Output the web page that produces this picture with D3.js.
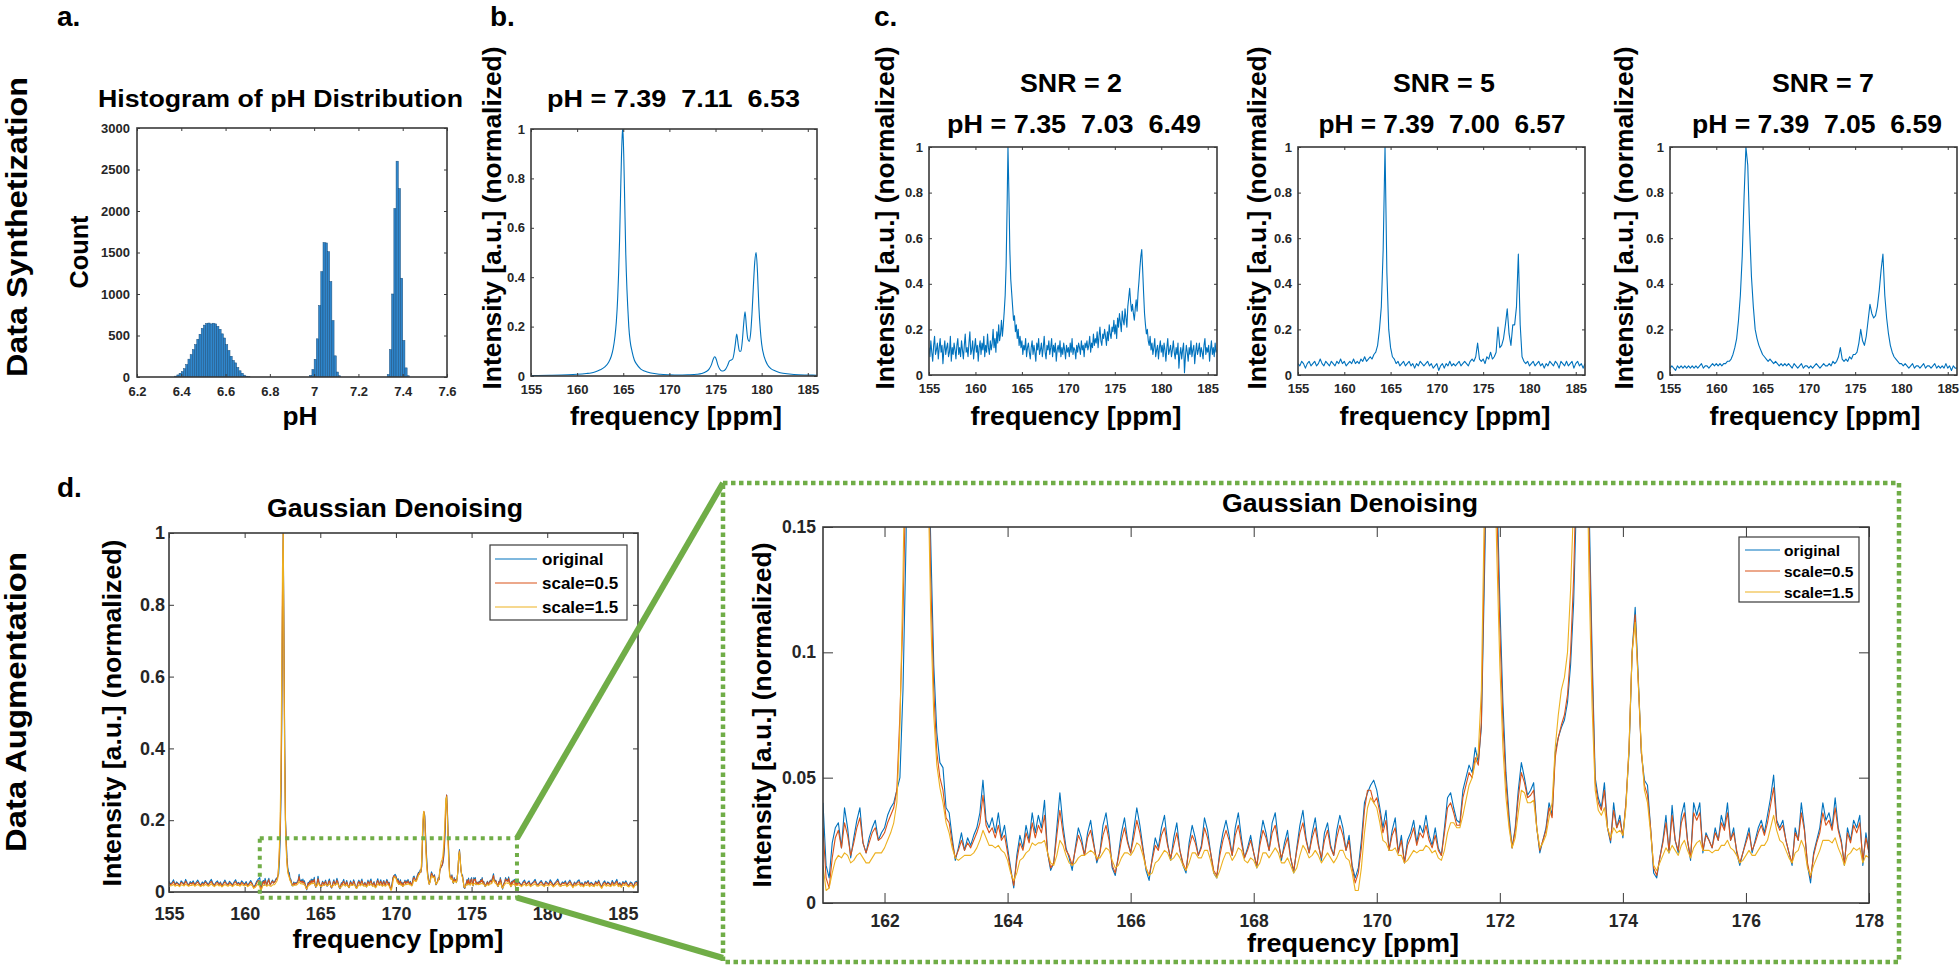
<!DOCTYPE html>
<html><head><meta charset="utf-8">
<script src="https://cdn.jsdelivr.net/npm/d3@7"></script>
<style>body{margin:0;background:#fff}</style>
</head><body>
<svg id="fig" width="1960" height="966"></svg>
<script>
// ================= DATA =================
const phTicks = [6.2,6.4,6.6,6.8,7.0,7.2,7.4,7.6];
const countTicks = [0,500,1000,1500,2000,2500,3000];
const phBinWidth = 0.01;
const phBinCenters = [6.375,6.385,6.395,6.405,6.415,6.425,6.435,6.445,6.455,6.465,6.475,6.485,6.495,6.505,6.515,6.525,6.535,6.545,6.555,6.565,6.575,6.585,6.595,6.605,6.615,6.625,6.635,6.645,6.655,6.665,6.675,6.685,6.695,6.705,
 6.985,6.995,7.005,7.015,7.025,7.035,7.045,7.055,7.065,7.075,7.085,7.095,7.105,7.115,
 7.335,7.345,7.355,7.365,7.375,7.385,7.395,7.405,7.415,7.425];
const phCounts = [10,25,45,65,100,150,215,270,330,390,455,515,585,625,645,650,640,648,640,610,575,520,470,390,320,250,200,170,115,75,45,22,10,4,
 20,90,213,460,860,1270,1620,1615,1510,1150,680,255,60,15,
 30,330,1000,2030,2600,2270,1190,440,110,15];

const freqTicks = [155,160,165,170,175,180,185];
const intensityTicks = [0,0.2,0.4,0.6,0.8,1];
const zoomFreqTicks = [162,164,166,168,170,172,174,176,178];
const zoomIntensityTicks = [0,0.05,0.1,0.15];

// panel b: [ppm, intensity]
const specB = [[155,.002],[157,.003],[159,.005],[160,.007],[161,.010],[161.5,.012],[162,.017],[162.5,.025],[163,.037],[163.4,.055],[163.7,.08],[163.9,.11],[164.1,.16],[164.25,.22],[164.4,.32],[164.5,.42],[164.6,.55],[164.7,.72],[164.8,.88],[164.88,.97],[164.93,1.0],[164.98,.98],[165.05,.9],[165.15,.72],[165.27,.5],[165.4,.35],[165.5,.27],[165.6,.2],[165.75,.14],[165.95,.1],[166.2,.065],[166.45,.048],[166.9,.028],[167.3,.02],[168,.012],[169,.007],[170,.005],[171,.004],[172,.005],[173,.007],[173.5,.01],[174,.018],[174.3,.028],[174.55,.045],[174.75,.068],[174.9,.078],[175,.075],[175.1,.065],[175.25,.045],[175.45,.028],[175.7,.02],[175.9,.021],[176.1,.028],[176.3,.042],[176.5,.06],[176.7,.065],[176.85,.068],[177,.09],[177.15,.13],[177.3,.17],[177.45,.13],[177.6,.1],[177.75,.1],[177.9,.14],[178.05,.21],[178.2,.26],[178.35,.2],[178.5,.15],[178.65,.14],[178.8,.17],[178.95,.25],[179.1,.36],[179.25,.46],[179.4,.5],[179.55,.42],[179.7,.28],[179.85,.19],[180,.13],[180.3,.075],[180.6,.048],[181,.03],[181.5,.02],[182,.013],[183,.008],[184,.005],[185,.004],[186,.003]];

// panel c, SNR = 2: sampled every 0.1 ppm from 155 to 186
const snr2Start = 155, snr2Step = 0.1;
const specSNR2 = [
 .12,.08,.15,.10,.06,.13,.17,.09,.11,.14, .07,.12,.16,.10,.13,.05,.11,.15,.09,.12,
 .14,.08,.10,.17,.06,.12,.09,.14,.11,.07, .13,.16,.09,.12,.08,.15,.11,.07,.13,.18,
 .10,.12,.08,.14,.19,.09,.11,.15,.07,.12, .16,.10,.13,.06,.12,.15,.09,.14,.11,.17,
 .08,.13,.10,.18,.12,.09,.15,.11,.14,.20, .12,.16,.10,.19,.14,.22,.15,.18,.24,.17,
 .22,.28,.35,.48,.72,1.0,.80,.55,.42,.36, .30,.24,.26,.19,.22,.16,.20,.13,.17,.12,
 .15,.09,.13,.11,.16,.08,.12,.14,.10,.07, .12,.15,.09,.13,.10,.06,.14,.11,.16,.09,
 .11,.14,.08,.12,.17,.10,.07,.13,.11,.15, .09,.12,.16,.08,.13,.10,.14,.06,.11,.13,
 .10,.15,.08,.12,.09,.14,.11,.07,.13,.10, .12,.08,.14,.10,.16,.09,.12,.11,.07,.13,
 .10,.14,.12,.09,.15,.11,.13,.08,.14,.12, .15,.11,.13,.17,.10,.14,.12,.18,.13,.16,
 .14,.19,.12,.17,.21,.15,.13,.18,.16,.20, .17,.13,.19,.15,.22,.18,.16,.21,.19,.24,
 .18,.22,.16,.25,.21,.27,.23,.19,.28,.24, .22,.29,.25,.21,.30,.34,.38,.32,.28,.31,
 .27,.24,.29,.33,.28,.36,.41,.47,.52,.55, .46,.36,.27,.22,.18,.20,.15,.13,.17,.11,
 .14,.09,.12,.16,.08,.11,.13,.07,.12,.15, .10,.13,.08,.14,.11,.06,.12,.16,.09,.11,
 .13,.08,.11,.15,.10,.07,.12,.09,.14,.03, .09,.12,.07,.11,.14,.01,.08,.13,.10,.06,
 .12,.09,.15,.08,.11,.13,.05,.10,.14,.09, .11,.14,.08,.12,.10,.07,.13,.16,.09,.12,
 .10,.13,.06,.11,.15,.09,.12,.08,.14,.10, .11];
// panel c, SNR = 5 and SNR = 7: sampled every 0.2 ppm from 155 to 186
const cStart = 155, cStep = 0.2;
const specSNR5 = [.05,.04,.06,.05,.03, .05,.06,.04,.05,.06, .04,.05,.07,.05,.04, .06,.05,.04,.06,.05, .04,.06,.05,.07,.05, .06,.04,.05,.06,.05, .07,.05,.06,.05,.07, .06,.08,.06,.07,.08,
 .07,.09,.10,.13,.20, .30,.55,1.0,.45,.20, .12,.08,.07,.05,.06, .04,.05,.06,.04,.05, .06,.04,.05,.03,.05, .04,.06,.05,.04,.05, .06,.04,.05,.03,.04, .05,.02,.04,.05,.03,
 .05,.04,.06,.04,.05, .04,.05,.06,.04,.05, .06,.05,.04,.06,.07, .06,.08,.14,.07,.06, .07,.05,.08,.07,.10, .07,.08,.10,.21,.12, .13,.16,.22,.29,.18, .13,.22,.22,.30,.53,
 .22,.08,.06,.05,.06, .04,.05,.06,.04,.05, .06,.04,.05,.03,.05, .04,.06,.05,.04,.06, .05,.03,.06,.05,.04, .06,.04,.05,.06,.03, .05,.06,.04,.05,.03, .05];
const specSNR7 = [.03,.04,.03,.02,.04, .03,.04,.03,.04,.03, .04,.03,.04,.03,.04, .03,.04,.05,.03,.04, .04,.03,.04,.05,.04, .05,.04,.05,.04,.05, .05,.06,.06,.07,.09, .12,.16,.24,.35,.52,
 .78,1.0,.92,.64,.43, .30,.20,.16,.13,.11, .09,.08,.07,.06,.07, .06,.05,.06,.05,.04, .05,.04,.05,.04,.05, .04,.03,.05,.04,.03, .04,.05,.03,.04,.04, .03,.04,.03,.04,.05,
 .04,.03,.04,.05,.04, .04,.05,.04,.06,.05, .06,.08,.12,.07,.06, .07,.06,.08,.07,.09, .09,.10,.14,.20,.15, .13,.17,.24,.31,.27, .25,.26,.30,.37,.46, .53,.35,.25,.18,.13,
 .10,.08,.07,.06,.05, .05,.04,.05,.04,.03, .04,.05,.03,.04,.04, .03,.04,.05,.03,.04, .04,.03,.04,.05,.03, .04,.03,.04,.03,.05, .03,.04,.02,.04,.03, .03];

// panel d: zoom region sampled every 0.05 ppm from 161 to 178
const dStart = 161, dStep = 0.05;
const denoOriginal = [
 .040,.015,.010,.024,.030,.032,.022,.038,.030,.018,.026,.033,.038,.024,.020,.026,.030,.033,.025,.028,
 .030,.035,.038,.040,.045,.050,.085,.145,.260,.450,.780,1.00,.700,.400,.200,.145,.095,.068,.056,.054,
 .038,.036,.026,.017,.022,.028,.021,.026,.023,.027,.030,.036,.049,.033,.030,.034,.028,.036,.026,.031,
 .022,.014,.006,.019,.027,.022,.031,.025,.036,.028,.035,.030,.041,.020,.013,.016,.030,.044,.031,.022,
 .018,.013,.022,.030,.026,.019,.028,.033,.024,.016,.020,.031,.036,.027,.014,.011,.019,.028,.034,.025,
 .020,.029,.038,.031,.022,.013,.009,.018,.026,.022,.030,.035,.024,.017,.026,.032,.021,.015,.012,.024,
 .031,.026,.019,.023,.034,.029,.020,.012,.010,.021,.028,.033,.027,.019,.030,.036,.026,.018,.022,.027,
 .020,.014,.025,.033,.028,.021,.032,.036,.025,.017,.024,.029,.018,.012,.022,.031,.037,.026,.020,.028,
 .034,.024,.017,.028,.032,.023,.019,.029,.035,.030,.021,.027,.015,.010,.014,.025,.040,.044,.047,.049,
 .045,.038,.030,.037,.021,.029,.034,.020,.027,.016,.025,.028,.033,.024,.031,.028,.035,.027,.023,.030,
 .022,.019,.030,.042,.044,.038,.033,.032,.045,.050,.055,.052,.062,.056,.070,.130,.190,.222,.215,.170,
 .120,.080,.052,.035,.022,.030,.045,.056,.050,.043,.045,.048,.030,.020,.025,.030,.040,.035,.060,.066,
 .070,.073,.080,.095,.120,.165,.240,.270,.230,.160,.100,.050,.042,.038,.048,.030,.024,.040,.030,.035,
 .026,.040,.060,.100,.118,.090,.060,.049,.047,.030,.012,.010,.018,.025,.035,.020,.039,.025,.020,.035,
 .040,.025,.017,.040,.035,.040,.020,.028,.025,.022,.030,.025,.035,.030,.040,.025,.030,.020,.015,.020,
 .025,.030,.020,.025,.030,.033,.028,.035,.042,.051,.033,.030,.033,.025,.020,.015,.030,.025,.040,.030,
 .015,.008,.020,.025,.030,.040,.033,.036,.030,.042,.030,.025,.015,.030,.025,.033,.030,.035,.015,.028,
 .020];
const denoScale05 = [
 .030,.010,.006,.018,.026,.029,.022,.032,.027,.019,.024,.030,.034,.024,.020,.024,.028,.030,.025,.026,
 .028,.032,.035,.038,.045,.075,.115,.175,.290,.500,.820,1.00,.680,.380,.200,.130,.085,.060,.050,.045,
 .034,.032,.024,.018,.021,.025,.021,.024,.022,.025,.028,.032,.043,.031,.028,.030,.026,.031,.025,.027,
 .020,.013,.007,.017,.024,.021,.028,.024,.032,.026,.031,.028,.035,.020,.014,.016,.027,.037,.028,.021,
 .019,.015,.021,.027,.024,.019,.026,.029,.023,.017,.020,.027,.031,.025,.015,.012,.018,.025,.030,.024,
 .020,.026,.033,.028,.021,.014,.011,.017,.023,.021,.027,.030,.023,.018,.023,.028,.021,.016,.013,.022,
 .027,.024,.019,.022,.030,.026,.020,.013,.011,.019,.025,.029,.025,.019,.027,.031,.024,.018,.021,.025,
 .020,.015,.023,.029,.026,.021,.028,.031,.024,.018,.022,.026,.018,.013,.021,.028,.032,.025,.020,.026,
 .030,.023,.018,.025,.029,.022,.019,.026,.031,.027,.021,.025,.014,.008,.012,.022,.037,.045,.045,.040,
 .042,.036,.028,.033,.021,.027,.030,.020,.025,.016,.023,.026,.030,.023,.028,.026,.031,.025,.022,.027,
 .021,.019,.028,.038,.040,.036,.031,.031,.042,.047,.052,.050,.058,.055,.072,.140,.200,.224,.210,.160,
 .110,.072,.048,.032,.022,.029,.042,.052,.048,.042,.043,.045,.030,.021,.025,.029,.038,.034,.058,.066,
 .071,.075,.083,.100,.130,.180,.245,.270,.225,.150,.092,.048,.040,.037,.045,.030,.025,.037,.030,.033,
 .027,.040,.062,.100,.115,.088,.060,.047,.043,.030,.014,.011,.018,.024,.032,.021,.035,.025,.021,.032,
 .036,.025,.018,.036,.033,.036,.021,.027,.025,.022,.028,.025,.032,.029,.036,.025,.028,.021,.016,.020,
 .024,.028,.021,.024,.028,.031,.027,.032,.039,.046,.032,.029,.031,.025,.020,.016,.028,.025,.036,.029,
 .016,.010,.019,.024,.028,.036,.031,.033,.029,.038,.029,.024,.016,.028,.024,.031,.028,.032,.017,.026,
 .020];
const denoScale15 = [
 .015,.005,.006,.012,.017,.019,.018,.020,.019,.016,.017,.019,.020,.018,.016,.016,.018,.020,.020,.020,
 .022,.025,.028,.032,.040,.070,.130,.210,.350,.600,.900,1.00,.620,.340,.180,.115,.075,.055,.046,.040,
 .032,.028,.022,.018,.017,.018,.019,.019,.019,.020,.022,.025,.029,.026,.023,.023,.022,.023,.021,.020,
 .017,.012,.009,.012,.017,.018,.020,.021,.024,.023,.024,.024,.025,.020,.016,.015,.019,.025,.023,.019,
 .016,.015,.016,.018,.019,.019,.020,.021,.020,.018,.018,.020,.022,.021,.017,.014,.015,.018,.020,.020,
 .019,.021,.024,.023,.019,.014,.011,.012,.016,.017,.019,.021,.020,.017,.018,.020,.018,.015,.013,.016,
 .020,.020,.018,.018,.021,.021,.017,.012,.010,.013,.017,.020,.020,.017,.019,.022,.021,.017,.016,.018,
 .017,.014,.016,.020,.020,.018,.020,.022,.020,.016,.016,.018,.015,.012,.014,.019,.023,.021,.018,.019,
 .021,.019,.016,.018,.020,.018,.016,.018,.021,.021,.018,.017,.012,.005,.005,.014,.028,.038,.042,.040,
 .038,.032,.025,.024,.021,.021,.022,.019,.019,.016,.017,.019,.021,.020,.021,.021,.023,.022,.020,.021,
 .018,.017,.021,.028,.032,.032,.030,.030,.035,.041,.047,.050,.056,.060,.085,.160,.215,.225,.195,.140,
 .095,.062,.042,.030,.022,.026,.036,.045,.044,.040,.040,.041,.030,.022,.024,.027,.034,.040,.062,.075,
 .085,.090,.100,.125,.160,.210,.260,.265,.205,.130,.078,.045,.037,.035,.038,.030,.026,.030,.028,.029,
 .027,.038,.062,.100,.112,.088,.062,.045,.040,.028,.015,.013,.016,.019,.022,.020,.023,.021,.019,.023,
 .025,.021,.018,.022,.024,.025,.021,.021,.021,.020,.021,.021,.023,.023,.025,.022,.021,.019,.016,.017,
 .019,.021,.019,.019,.021,.023,.023,.025,.030,.035,.029,.025,.024,.021,.018,.016,.020,.021,.025,.022,
 .014,.011,.015,.018,.021,.025,.025,.025,.024,.026,.022,.019,.015,.019,.020,.022,.021,.022,.016,.019,
 .018];
// panel d (full view) outside the zoom region, sampled every 0.1 ppm
const outerStep = 0.1, outerLeftStart = 155.0, outerRightStart = 178.1;
const leftOriginal = [.030,.022,.026,.034,.020,.028,.024,.018,.031,.027, .022,.035,.026,.019,.029,.024,.031,.020,.027,.033, .025,.018,.028,.023,.032,.026,.020,.029,.035,.024,
 .019,.027,.031,.022,.028,.017,.026,.033,.024,.021, .030,.025,.019,.028,.034,.023,.027,.020,.031,.026, .022,.029,.018,.025,.032,.024,.013,.020,.030,.036];
const leftScale05 = [.026,.020,.023,.029,.019,.025,.022,.017,.027,.024, .020,.030,.023,.018,.025,.022,.027,.019,.024,.028, .022,.017,.024,.021,.028,.023,.019,.025,.030,.021,
 .018,.024,.027,.020,.025,.016,.023,.028,.022,.019, .026,.022,.018,.025,.029,.021,.024,.019,.027,.023, .020,.025,.017,.022,.028,.022,.012,.017,.026,.032];
const leftScale15 = [.020,.017,.018,.021,.016,.019,.018,.015,.020,.019, .017,.022,.019,.016,.019,.018,.021,.016,.019,.021, .018,.015,.019,.017,.021,.019,.016,.019,.023,.018,
 .015,.019,.021,.017,.019,.014,.018,.021,.018,.016, .020,.018,.015,.019,.022,.018,.019,.016,.021,.019, .017,.020,.015,.018,.021,.018,.010,.013,.019,.022];
const rightOriginal = [.030,.024,.019,.028,.033,.022,.026,.031,.018,.025, .029,.035,.023,.020,.027,.032,.024,.019,.030,.026, .022,.034,.027,.018,.025,.030,.036,.023,.020,.028,
 .025,.031,.019,.027,.033,.024,.016,.028,.022,.030, .034,.021,.026,.018,.029,.025,.032,.020,.027,.023, .019,.030,.024,.033,.022,.014,.026,.031,.021,.028,
 .025,.019,.032,.023,.027,.035,.020,.026,.017,.029, .024,.031,.022,.018,.028,.025,.015,.027,.030,.021];
const rightScale05 = [.026,.022,.018,.025,.029,.021,.024,.027,.018,.023, .026,.030,.021,.019,.024,.028,.022,.018,.027,.023, .021,.029,.024,.017,.022,.027,.031,.021,.019,.025,
 .023,.027,.018,.024,.029,.022,.015,.025,.021,.026, .029,.020,.023,.017,.026,.023,.028,.019,.024,.021, .018,.027,.022,.029,.020,.013,.023,.027,.020,.025,
 .022,.018,.028,.021,.024,.030,.019,.023,.016,.026, .022,.027,.020,.017,.025,.022,.014,.024,.027,.020];
const rightScale15 = [.020,.018,.015,.019,.022,.017,.019,.021,.015,.018, .020,.023,.017,.016,.019,.021,.018,.015,.020,.018, .017,.022,.019,.014,.017,.021,.024,.017,.015,.019,
 .018,.021,.015,.018,.022,.018,.012,.019,.017,.020, .022,.016,.018,.014,.020,.018,.021,.015,.019,.017, .015,.021,.017,.022,.016,.010,.018,.021,.016,.019,
 .017,.015,.021,.017,.019,.023,.015,.018,.013,.020, .018,.021,.016,.014,.019,.017,.011,.018,.021,.016];

const legendLabels = ["original","scale=0.5","scale=1.5"];
const seriesColors = ["#0072BD","#D95319","#EDB120"];

// ================= DRAWING =================
const FONT = '"Liberation Sans", Arial, Helvetica, sans-serif';
const svg = d3.select('#fig');
svg.append('rect').attr('width',1960).attr('height',966).attr('fill','#fff');
let clipN = 0;

function makeAxes(c){
  const x = d3.scaleLinear().domain(c.xd).range([c.left,c.right]);
  const y = d3.scaleLinear().domain(c.yd).range([c.bottom,c.top]);
  const id = 'clip'+(clipN++);
  svg.append('clipPath').attr('id',id).append('rect')
    .attr('x',c.left).attr('y',c.top).attr('width',c.right-c.left).attr('height',c.bottom-c.top);
  const plot = svg.append('g').attr('clip-path',`url(#${id})`);
  return {x,y,c,plot};
}
function finishAxes(a){
  const {x,y,c} = a;
  const g = svg.append('g');
  const none = () => '';
  const styleTicks = s => { s.select('.domain').remove(); s.selectAll('line').attr('stroke','#3a3a3a').attr('stroke-width',1); };
  const mk = (gen,tx,ty) => g.append('g').attr('transform',`translate(${tx},${ty})`).call(gen).call(styleTicks);
  mk(d3.axisBottom(x).tickValues(c.xt).tickSizeInner(-c.tl).tickSizeOuter(0).tickFormat(none),0,c.bottom);
  mk(d3.axisTop(x).tickValues(c.xt).tickSizeInner(-c.tl).tickSizeOuter(0).tickFormat(none),0,c.top);
  mk(d3.axisLeft(y).tickValues(c.yt).tickSizeInner(-c.tl).tickSizeOuter(0).tickFormat(none),c.left,0);
  mk(d3.axisRight(y).tickValues(c.yt).tickSizeInner(-c.tl).tickSizeOuter(0).tickFormat(none),c.right,0);
  const fmt = d3.format('~g');
  const lab = (gen,tx,ty) => {
    const s = g.append('g').attr('transform',`translate(${tx},${ty})`).call(gen);
    s.select('.domain').remove(); s.selectAll('line').remove();
    s.selectAll('text').attr('font-family',FONT).attr('font-weight','bold').attr('font-size',c.fs).attr('fill','#262626');
  };
  lab(d3.axisBottom(x).tickValues(c.xt).tickSize(0).tickPadding(c.xp).tickFormat(fmt),0,c.bottom);
  lab(d3.axisLeft(y).tickValues(c.yt).tickSize(0).tickPadding(c.yp).tickFormat(fmt),c.left,0);
  g.append('rect').attr('x',c.left).attr('y',c.top).attr('width',c.right-c.left).attr('height',c.bottom-c.top)
    .attr('fill','none').attr('stroke','#3a3a3a').attr('stroke-width',1.6);
}
function txt(x,y,s,size,len,opt={}){
  const t = svg.append('text').attr('x',x).attr('y',y).attr('font-family',FONT).attr('font-weight','bold')
    .attr('font-size',size).attr('fill','#000').attr('text-anchor',opt.anchor||'middle').style('white-space','pre').text(s);
  if(len) t.attr('textLength',len).attr('lengthAdjust','spacingAndGlyphs');
  if(opt.rot) t.attr('transform',`rotate(-90,${x},${y})`);
  return t;
}
function line(a,pts,color,w,curve){
  a.plot.append('path').datum(pts).attr('fill','none').attr('stroke',color).attr('stroke-width',w)
    .attr('stroke-linejoin','round')
    .attr('d',d3.line().x(d=>a.x(d[0])).y(d=>a.y(d[1])).curve(curve||d3.curveLinear));
}
const grid = (start,step,vals) => vals.map((v,i)=>[+(start+i*step).toFixed(3),v]);

// ---- panel a: histogram ----
const A = makeAxes({left:137,right:447,top:128,bottom:377,xd:[6.2,7.6],yd:[0,3000],xt:phTicks,yt:countTicks,tl:3,fs:13,xp:10,yp:7});
A.plot.selectAll('rect').data(d3.zip(phBinCenters,phCounts)).join('rect')
  .attr('x',d=>A.x(d[0]-phBinWidth/2)).attr('width',d=>A.x(d[0]+phBinWidth/2)-A.x(d[0]-phBinWidth/2))
  .attr('y',d=>A.y(d[1])).attr('height',d=>A.y(0)-A.y(d[1]))
  .attr('fill','#2f86cc').attr('stroke','#1b4f7d').attr('stroke-width',0.5);
finishAxes(A);
txt(280.5,107,'Histogram of pH Distribution',23,365);
txt(88,252,'Count',26,73,{rot:true});
txt(300,425,'pH',26,35);

// ---- panel b ----
const B = makeAxes({left:531,right:817,top:129,bottom:376,xd:[155,186],yd:[0,1],xt:freqTicks,yt:intensityTicks,tl:3,fs:13,xp:9,yp:6});
line(B,specB,'#0072BD',1.1,d3.curveMonotoneX);
finishAxes(B);
txt(673.5,107,'pH = 7.39  7.11  6.53',24,253);
txt(501,218,'Intensity [a.u.] (normalized)',26,343,{rot:true});
txt(676,425,'frequency [ppm]',26,212);

// ---- panel c ----
const cPanels = [
  {left:929,right:1217,pts:grid(snr2Start,snr2Step,specSNR2),snr:'SNR = 2',ph:'pH = 7.35  7.03  6.49',tc:1071,pc:1074,pl:254,yl:894,xc:1076},
  {left:1298,right:1585,pts:grid(cStart,cStep,specSNR5),snr:'SNR = 5',ph:'pH = 7.39  7.00  6.57',tc:1444,pc:1442,pl:247,yl:1266,xc:1445},
  {left:1670,right:1957,pts:grid(cStart,cStep,specSNR7),snr:'SNR = 7',ph:'pH = 7.39  7.05  6.59',tc:1823,pc:1817,pl:250,yl:1633,xc:1815}
];
cPanels.forEach(p=>{
  const C = makeAxes({left:p.left,right:p.right,top:147,bottom:375,xd:[155,186],yd:[0,1],xt:freqTicks,yt:intensityTicks,tl:3,fs:13,xp:9,yp:6});
  line(C,p.pts,'#0072BD',1.1);
  finishAxes(C);
  txt(p.tc,92,p.snr,26,102);
  txt(p.pc,133,p.ph,25,p.pl);
  txt(p.yl,218,'Intensity [a.u.] (normalized)',26,343,{rot:true});
  txt(p.xc,425,'frequency [ppm]',26,211);
});

// ---- panel d (full) ----
const D = makeAxes({left:169,right:638,top:533,bottom:892,xd:[155,186],yd:[0,1],xt:freqTicks,yt:intensityTicks,tl:5,fs:18,xp:15,yp:4});
const fullSeries = [
  grid(outerLeftStart,outerStep,leftOriginal).concat(grid(dStart,dStep,denoOriginal),grid(outerRightStart,outerStep,rightOriginal)),
  grid(outerLeftStart,outerStep,leftScale05).concat(grid(dStart,dStep,denoScale05),grid(outerRightStart,outerStep,rightScale05)),
  grid(outerLeftStart,outerStep,leftScale15).concat(grid(dStart,dStep,denoScale15),grid(outerRightStart,outerStep,rightScale15))
];
fullSeries.forEach((s,i)=>line(D,s,seriesColors[i],1.1));
finishAxes(D);
txt(395,517,'Gaussian Denoising',25,256);
txt(121,713,'Intensity [a.u.] (normalized)',26,347,{rot:true});
txt(398,948,'frequency [ppm]',26,211);
function legend(x0,y0,w,h,rowY,l0,l1,tx,fs){
  const g = svg.append('g');
  g.append('rect').attr('x',x0).attr('y',y0).attr('width',w).attr('height',h).attr('fill','#fff').attr('stroke','#3a3a3a').attr('stroke-width',1.2);
  legendLabels.forEach((lab,i)=>{
    g.append('line').attr('x1',l0).attr('x2',l1).attr('y1',rowY[i]).attr('y2',rowY[i]).attr('stroke',seriesColors[i]).attr('stroke-width',1.2);
    g.append('text').attr('x',tx).attr('y',rowY[i]).attr('dy','0.36em').attr('font-family',FONT).attr('font-weight','bold')
      .attr('font-size',fs).attr('fill','#000').text(lab);
  });
}
legend(490,545,137,75,[559,583,607],495,537,542,17);

// ---- panel d (zoom) ----
const Z = makeAxes({left:823,right:1869,top:527,bottom:903,xd:[161,178],yd:[0,0.15],xt:zoomFreqTicks,yt:zoomIntensityTicks,tl:10,fs:17.5,xp:12,yp:7});
[denoOriginal,denoScale05,denoScale15].forEach((s,i)=>line(Z,grid(dStart,dStep,s),seriesColors[i],1.1));
finishAxes(Z);
txt(1350,512,'Gaussian Denoising',25,256);
txt(771,715,'Intensity [a.u.] (normalized)',26,345,{rot:true});
txt(1353,952,'frequency [ppm]',26,212);
legend(1739,537,120,65,[550,571,592],1745,1780,1784,15.5);

// ---- green zoom indicators ----
const GREEN = '#70ad47';
const bx0 = D.x(161), bx1 = D.x(178), by0 = D.y(0.15), by1 = D.y(-0.016);
svg.append('rect').attr('x',bx0).attr('y',by0).attr('width',bx1-bx0).attr('height',by1-by0)
  .attr('fill','none').attr('stroke',GREEN).attr('stroke-width',4).attr('stroke-dasharray','4,4.5');
const big = {x0:723,y0:483,x1:1899,y1:962};
svg.append('rect').attr('x',big.x0).attr('y',big.y0).attr('width',big.x1-big.x0).attr('height',big.y1-big.y0)
  .attr('fill','none').attr('stroke',GREEN).attr('stroke-width',4.5).attr('stroke-dasharray','4.5,3.5');
svg.append('line').attr('x1',bx1).attr('y1',by0).attr('x2',big.x0).attr('y2',big.y0).attr('stroke',GREEN).attr('stroke-width',6);
svg.append('line').attr('x1',bx1).attr('y1',by1).attr('x2',big.x0).attr('y2',big.y1-4).attr('stroke',GREEN).attr('stroke-width',6);

// ---- panel letters and row labels ----
txt(57,26,'a.',28,null,{anchor:'start'});
txt(490,26,'b.',28,null,{anchor:'start'});
txt(874,26,'c.',28,null,{anchor:'start'});
txt(57,497,'d.',28,null,{anchor:'start'});
txt(27,227,'Data Synthetization',30,300,{rot:true});
txt(26,702,'Data Augmentation',30,300,{rot:true});
</script>
</body></html>
